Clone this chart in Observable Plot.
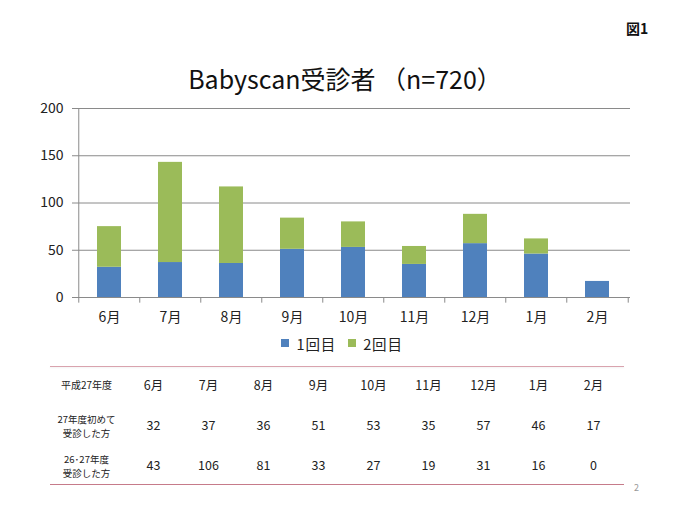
<!DOCTYPE html>
<html>
<head>
<meta charset="utf-8">
<script src="https://cdn.jsdelivr.net/npm/d3@7"></script>
<script src="https://cdn.jsdelivr.net/npm/@observablehq/plot@0.6"></script>
<style>
  body { margin: 0; background: #fff; font-family: "Noto Sans CJK JP", "Noto Sans", sans-serif; }
  #page { position: relative; width: 680px; height: 510px; overflow: hidden; background: #fff; }
  #fig { position: absolute; left: 626px; top: 18px; font-size: 14px; font-weight: bold; color: #111; line-height: 20px; }
  #title { position: absolute; left: 6px; top: 62px; width: 678px; text-align: center; font-size: 25px; line-height: 32px; color: #111; }
  #chart { position: absolute; left: 0; top: 96px; }
  #legend { position: absolute; left: 8px; top: 332px; width: 680px; }
  #legend > div { display: flex !important; justify-content: center; font-size: 14.5px !important; font-family: "Noto Sans CJK JP", sans-serif !important; color: #222; margin: 0 !important; min-height: 22px !important; letter-spacing: 0.8px; }
  #legend > div > * { margin-right: 12px !important; }
  #table { position: absolute; left: 0; top: 362px; }
  #topline { position: absolute; left: 50px; top: 366px; width: 574px; height: 0; border-top: 1.5px solid #d9a3ae; box-shadow: 0 1px 2px #eee; }
  #botline { position: absolute; left: 50px; top: 484px; width: 574px; height: 0; border-top: 1.5px solid #c67b8a; }
  #pageno { position: absolute; left: 634px; top: 481px; font-size: 9px; color: #999; }
</style>
</head>
<body>
<div id="page">
  <div id="fig">図1</div>
  <div id="title">Babyscan受診者 （n=720）</div>
  <div id="chart"></div>
  <div id="legend"></div>
  <div id="topline"></div>
  <div id="table"></div>
  <div id="botline"></div>
  <div id="pageno">2</div>
</div>
<script>
// ---- data ----
const months = ["6月", "7月", "8月", "9月", "10月", "11月", "12月", "1月", "2月"];
const firstVisit = [32, 37, 36, 51, 53, 35, 57, 46, 17];   // 1回目 / 27年度初めて受診した方
const secondVisit = [43, 106, 81, 33, 27, 19, 31, 16, 0];  // 2回目 / 26･27年度受診した方
const seriesNames = ["1回目", "2回目"];
const seriesColors = ["#4F81BD", "#9BBB59"];
const yTicks = [0, 50, 100, 150, 200];
const tableHeader = "平成27年度";
const rowLabels = ["27年度初めて\n受診した方", "26･27年度\n受診した方"];
const rowKeys = ["header", "first", "second"];

// ---- chart ----
const W = 680, ML = 77, MR = 50;
const step = (W - ML - MR) / months.length;
const barData = months.flatMap((m, i) => [
  {month: m, series: seriesNames[0], value: firstVisit[i]},
  {month: m, series: seriesNames[1], value: secondVisit[i]}
]);
const font = "'Noto Sans CJK JP', 'Noto Sans', sans-serif";

const chart = Plot.plot({
  width: W,
  height: 240,
  marginLeft: ML,
  marginRight: MR,
  marginTop: 12,
  marginBottom: 39,
  style: {fontFamily: font, fontSize: "14px", color: "#222", background: "transparent", overflow: "visible"},
  x: {domain: months, paddingInner: 0.6, paddingOuter: 0.3, label: null},
  y: {domain: [0, 200], label: null},
  color: {domain: seriesNames, range: seriesColors},
  marks: [
    Plot.ruleY(yTicks.slice(1), {stroke: "#8a8a8a", strokeWidth: 1}),
    Plot.barY(barData, {x: "month", y: "value", fill: "series"}),
    Plot.ruleY([0], {stroke: "#8a8a8a", strokeWidth: 1}),
    Plot.ruleX([months[0]], {dx: -step / 2, y1: 0, y2: 200, stroke: "#8a8a8a"}),
    Plot.ruleX(months, {dx: -step / 2, y1: 0, y2: -6, stroke: "#8a8a8a"}),
    Plot.ruleX([months[months.length - 1]], {dx: step / 2, y1: 0, y2: -6, stroke: "#8a8a8a"}),
    Plot.axisY({ticks: yTicks, tickSize: 5, tickPadding: 9, stroke: "#8a8a8a", fill: "#222", label: null}),
    Plot.axisX({tickSize: 0, tickPadding: 15, fill: "#222", label: null})
  ]
});
document.getElementById("chart").append(chart);

const legend = Plot.legend({
  color: {domain: seriesNames, range: seriesColors},
  legend: "swatches",
  swatchSize: 8
});
document.getElementById("legend").append(legend);

// ---- table ----
const table = Plot.plot({
  width: W,
  height: 120,
  margin: 0,
  style: {fontFamily: font, color: "#222", background: "transparent", overflow: "visible"},
  x: {type: "point", domain: months, range: [150, 595], padding: 0, axis: null},
  y: {type: "point", domain: rowKeys, range: [22, 103], padding: 0, axis: null},
  marks: [
    Plot.text(months, {x: d => d, y: () => rowKeys[0], fontSize: 12.5, fill: "#222"}),
    Plot.text(firstVisit, {x: (d, i) => months[i], y: () => rowKeys[1], text: d => String(d), fontSize: 12.5, fill: "#222"}),
    Plot.text(secondVisit, {x: (d, i) => months[i], y: () => rowKeys[2], text: d => String(d), fontSize: 12.5, fill: "#222"}),
    Plot.text([tableHeader], {frameAnchor: "left", dx: 86, textAnchor: "middle", y: () => rowKeys[0], text: d => d, fontSize: 10, fill: "#222"}),
    Plot.text(rowLabels, {frameAnchor: "left", dx: 86, textAnchor: "middle", y: (d, i) => rowKeys[i + 1], text: d => d, fontSize: 9.5, lineHeight: 1.45, fill: "#222"})
  ]
});
document.getElementById("table").append(table);
</script>
</body>
</html>
